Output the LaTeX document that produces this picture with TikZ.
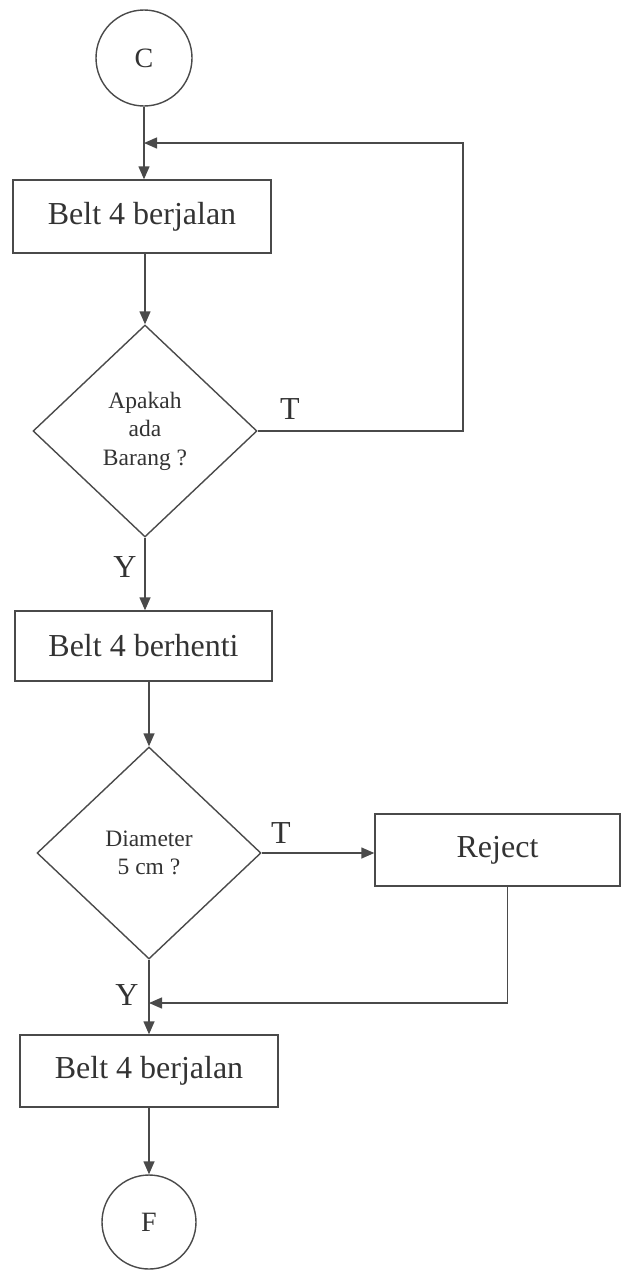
\documentclass[tikz,border=0pt]{standalone}
\usepackage{fontspec}
\setmainfont{Liberation Serif}
\usetikzlibrary{shapes.geometric,arrows.meta,calc}
\definecolor{ink}{HTML}{4A4A4A}
\definecolor{txt}{HTML}{333333}
\begin{document}
\begin{tikzpicture}[x=1pt,y=-1pt,
  every node/.style={text=txt},
  conn/.style={ink,line width=1.4pt},
  arr/.style={conn,-{Triangle[length=13pt,width=11pt]}},
  procbox/.style={draw=ink,line width=1.4pt,rectangle,inner sep=0pt,
    font=\fontsize{32}{38}\selectfont},
  decide/.style={draw=ink,line width=1.4pt,diamond,inner sep=0pt,
    minimum width=224pt,minimum height=212pt,align=center,
    font=\fontsize{23.5}{28.5}\selectfont},
  connector/.style={draw=ink,line width=1.4pt,circle,inner sep=0pt,
    minimum size=96pt,font=\fontsize{28}{32}\selectfont},
  lbl/.style={inner sep=0pt,font=\fontsize{32}{36}\selectfont}]
\useasboundingbox (0,0) rectangle (624,1270);

% flowchart nodes
\node[connector] (c) at (144,58) {C};
\node[procbox,minimum width=258pt,minimum height=73pt] (b1) at (142,216.5) {Belt 4 berjalan};
\node[decide] (d1) at (145,431) {Apakah\\ada\\Barang ?};
\node[procbox,minimum width=257pt,minimum height=70pt] (b2) at (143.5,646) {Belt 4 berhenti};
\node[decide] (d2) at (149,853) {Diameter\\5 cm ?};
\node[procbox,minimum width=245pt,minimum height=72pt] (rej) at (497.5,850) {Reject};
\node[procbox,minimum width=258pt,minimum height=72pt] (b3) at (149,1071) {Belt 4 berjalan};
\node[connector,minimum size=94pt] (f) at (149,1222) {F};

% junction points of the return lines
\coordinate (j1) at (144,143);
\coordinate (lc) at (463,143);
\coordinate (j2) at (149,1003);

% branch labels
\node[lbl] (t1) at (290,409) {T};
\node[lbl] (y1) at (125,567) {Y};
\node[lbl] (t2) at (281,833) {T};
\node[lbl] (y2) at (127,995) {Y};

% main flow
\draw[arr] (c.south) -- (c.south |- b1.north);
\draw[arr] (b1.south -| d1.north) -- (d1.north);
\draw[arr] (d1.south) -- (d1.south |- b2.north);
\draw[arr] (b2.south -| d2.north) -- (d2.north);
\draw[arr] (d2.east) -- (d2.east -| rej.west);
\draw[arr] (d2.south) -- (d2.south |- b3.north);
\draw[arr] (b3.south) -- (f.north);

% return loops
\draw[arr] (d1.east) -| (lc) -- (j1);
\draw[arr] ($(rej.south)+(10,0)$) |- (j2);
\end{tikzpicture}
\end{document}
